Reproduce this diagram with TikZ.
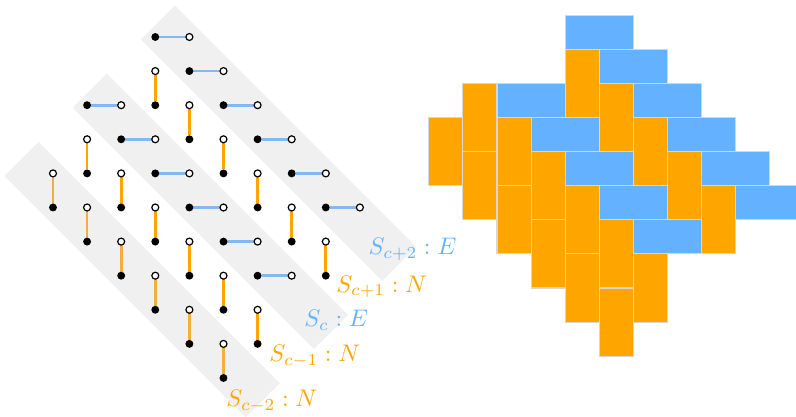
\documentclass[tikz,border=0pt]{standalone}
\usepackage{tikz}

\definecolor{tileorange}{RGB}{255,165,0}
\definecolor{tileblue}{RGB}{100,178,255}
\definecolor{tileline}{RGB}{214,214,214}

\pgfdeclarelayer{edges}
\pgfdeclarelayer{bands}
\pgfsetlayers{edges,bands,main}

\tikzset{
  fdot/.style={circle, fill=black, inner sep=0pt, outer sep=0pt, minimum size=3.3pt},
  odot/.style={circle, draw=black, fill=white, line width=0.5pt, inner sep=0pt, outer sep=0pt, minimum size=2.9pt},
  eedge/.style={tileblue, line width=1.1pt},
  nedge/.style={tileorange, line width=1.1pt},
  band/.style={fill=black!20, opacity=0.3},
  lbl/.style={anchor=base west, inner sep=0pt},
}

\begin{document}
\begin{tikzpicture}[x=0.5cm, y=0.5cm]

\useasboundingbox (-1.554,-11.144) rectangle (21.789,1.085);

% east dominoes: black dot, white dot to its right
\foreach \i/\j in {3/0,4/1,1/2,5/2,2/3,6/3,3/4,7/4,4/5,8/5,5/6,6/7} {
  \node[fdot] (eb-\i-\j) at (\i,-\j) {};
  \node[odot] (ew-\i-\j) at (\i+1,-\j) {};
  \begin{pgfonlayer}{edges}
    \draw[eedge] (eb-\i-\j) -- (ew-\i-\j);
  \end{pgfonlayer}
}

% north dominoes: black dot, white dot above it
\foreach \i/\j in {3/2,4/3,1/4,5/4,0/5,2/5,6/5,1/6,3/6,7/6,2/7,4/7,8/7,3/8,5/8,4/9,6/9,5/10} {
  \node[fdot] (nb-\i-\j) at (\i,-\j) {};
  \node[odot] (nw-\i-\j) at (\i,1-\j) {};
  \begin{pgfonlayer}{edges}
    \draw[nedge] (nb-\i-\j) -- (nw-\i-\j);
  \end{pgfonlayer}
}

% shaded strips S_{c+2}, S_c, S_{c-2}
\begin{pgfonlayer}{bands}
\foreach \v in {2.5,-1.5,-5.5}
  \fill[band] ({(2.65+\v)/2},{(\v-2.65)/2}) -- ({(16.8+\v)/2},{(\v-16.8)/2})
    -- ({(18.8+\v)/2},{(\v-14.8)/2}) -- ({(4.65+\v)/2},{(\v-0.65)/2}) -- cycle;
\end{pgfonlayer}

\node[lbl, text=tileblue] (sc2) at (9.24,-6.39) {$S_{c+2} : E$};
\node[lbl, text=tileorange] (sc1) at (8.30,-7.48) {$S_{c+1} : N$};
\node[lbl, text=tileblue] (sc0) at (7.36,-8.50) {$S_{c} : E$};
\node[lbl, text=tileorange] (scm1) at (6.33,-9.53) {$S_{c-1} : N$};
\node[lbl, text=tileorange] (scm2) at (5.07,-10.85) {$S_{c-2} : N$};

% the tiling
\begin{scope}[shift={(11.02,0.64)}, draw=tileline, line width=0.45pt]
  \foreach \k/\r in {0/3,1/2,1/4,2/3,2/5,3/4,3/6,4/1,4/5,4/7,5/2,5/6,5/8,6/3,6/7,7/4,8/5}
    \filldraw[fill=tileorange] (\k,-\r) rectangle ++(1,-2);
  \foreach \k/\r in {4/0,5/1,2/2,6/2,3/3,7/3,4/4,8/4,5/5,9/5,6/6}
    \filldraw[fill=tileblue] (\k,-\r) rectangle ++(2,-1);
\end{scope}

\end{tikzpicture}
\end{document}
